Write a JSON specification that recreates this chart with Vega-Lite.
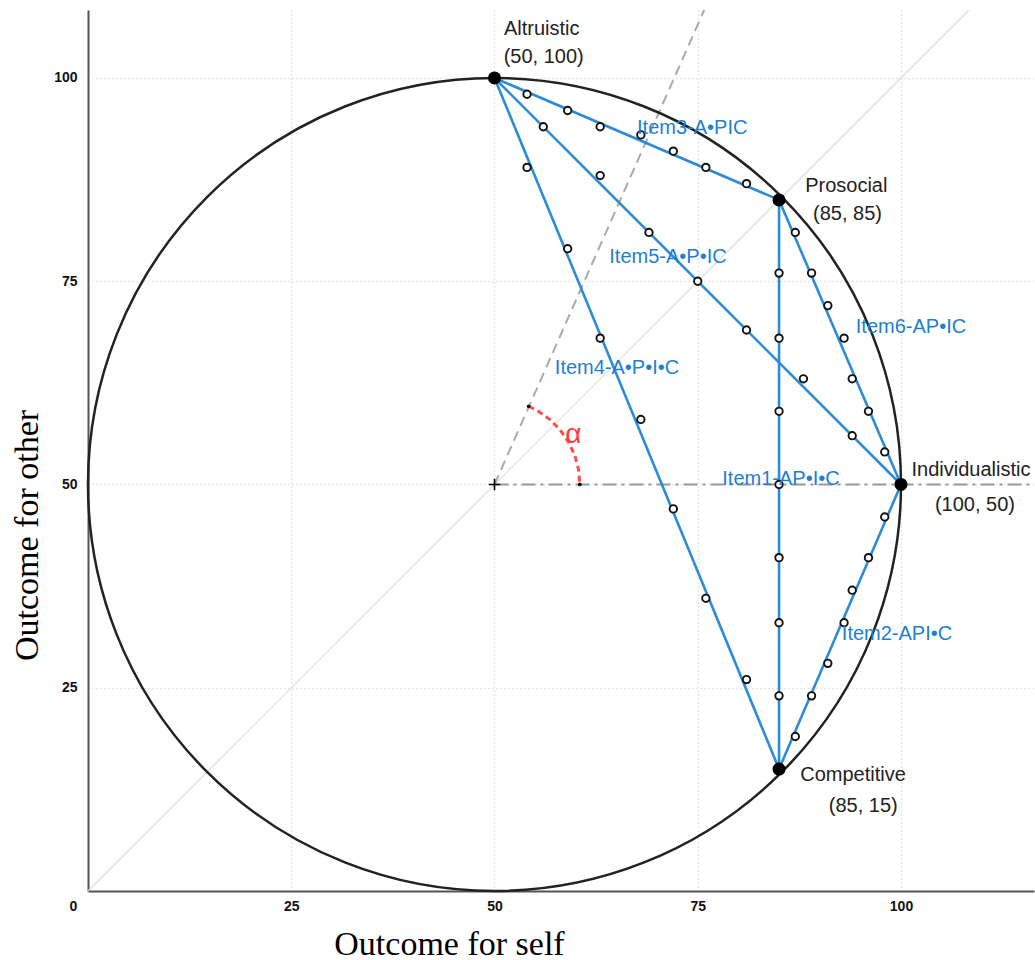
{
  "$schema": "https://vega.github.io/schema/vega-lite/v6.json",
  "width": 946,
  "height": 881,
  "autosize": {"type": "none"},
  "padding": {"left": 88, "top": 10, "right": 1, "bottom": 69},
  "background": "white",
  "config": {"view": {"stroke": null}},
  "encoding": {
    "x": {
      "field": "x", "type": "quantitative",
      "scale": {"domain": [0, 116.36], "nice": false, "zero": false},
      "axis": {
        "values": [0, 25, 50, 75, 100],
        "grid": true, "gridColor": "#cfcfcf", "gridDash": [1, 3], "gridWidth": 1.5,
        "domainColor": "#555555", "domainWidth": 2, "ticks": false,
        "labelFont": "Liberation Sans", "labelFontSize": 14, "labelFontWeight": "bold", "labelColor": "#111111",
        "labelPadding": 8, "labelFlush": false,
        "labelOffset": {"condition": {"test": "datum.value === 0", "value": -15}, "value": 0},
        "title": "Outcome for self", "titleFont": "Liberation Serif", "titleFontSize": 34, "titleFontWeight": "normal",
        "titleColor": "#000000", "titleX": 361, "titleY": 63, "titleBaseline": "alphabetic", "titleAlign": "center"
      }
    },
    "y": {
      "field": "y", "type": "quantitative",
      "scale": {"domain": [0, 108.36], "nice": false, "zero": false},
      "axis": {
        "values": [25, 50, 75, 100],
        "grid": true, "gridColor": "#cfcfcf", "gridDash": [1, 3], "gridWidth": 1.5,
        "domainColor": "#555555", "domainWidth": 2, "ticks": false,
        "labelFont": "Liberation Sans", "labelFontSize": 14, "labelFontWeight": "bold", "labelColor": "#111111",
        "labelPadding": 11, "labelFlush": false,
        "title": "Outcome for other", "titleFont": "Liberation Serif", "titleFontSize": 34, "titleFontWeight": "normal",
        "titleColor": "#000000", "titleX": -51, "titleY": 525, "titleBaseline": "alphabetic", "titleAlign": "center", "titleAngle": -90
      }
    }
  },
  "layer": [
    {
      "data": {"values": [{"x": 0, "y": 0, "x2": 108.36, "y2": 108.36}]},
      "mark": {"type": "rule", "color": "#dddddd", "strokeWidth": 1.2},
      "encoding": {"x2": {"field": "x2"}, "y2": {"field": "y2"}}
    },
    {
      "data": {"values": [{"x": 50, "y": 50, "x2": 75.8, "y2": 108.36}]},
      "mark": {"type": "rule", "color": "#aaaaaa", "strokeWidth": 2, "strokeDash": [10, 6]},
      "encoding": {"x2": {"field": "x2"}, "y2": {"field": "y2"}}
    },
    {
      "data": {"values": [{"x": 50, "y": 50, "x2": 116.36, "y2": 50}]},
      "mark": {"type": "rule", "color": "#999999", "strokeWidth": 1.8, "strokeDash": [14, 5, 3, 5]},
      "encoding": {"x2": {"field": "x2"}, "y2": {"field": "y2"}}
    },
    {
      "data": {"values": [{"x": 50, "y": 50}]},
      "mark": {"type": "point", "shape": "circle", "filled": false, "stroke": "#222222", "strokeWidth": 2.5, "size": 660970, "opacity": 1}
    },
    {
      "data": {"values": [
        {"x": 60.5, "y": 50}, {"x": 60.34, "y": 51.82}, {"x": 59.87, "y": 53.59}, {"x": 59.09, "y": 55.25},
        {"x": 58.04, "y": 56.75}, {"x": 56.75, "y": 58.04}, {"x": 55.25, "y": 59.09}, {"x": 54.2, "y": 59.62}
      ]},
      "mark": {"type": "line", "color": "#ff4d4d", "strokeWidth": 3, "strokeDash": [6, 4]}
    },
    {
      "data": {"values": [
        {"item": "Item1", "x": 85, "y": 85, "x2": 85, "y2": 15},
        {"item": "Item2", "x": 100, "y": 50, "x2": 85, "y2": 15},
        {"item": "Item3", "x": 50, "y": 100, "x2": 85, "y2": 85},
        {"item": "Item4", "x": 50, "y": 100, "x2": 85, "y2": 15},
        {"item": "Item5", "x": 50, "y": 100, "x2": 100, "y2": 50},
        {"item": "Item6", "x": 85, "y": 85, "x2": 100, "y2": 50}
      ]},
      "mark": {"type": "rule", "color": "#2e8bd6", "strokeWidth": 2.6},
      "encoding": {"x2": {"field": "x2"}, "y2": {"field": "y2"}}
    },
    {
      "data": {"values": [
        {"x": 85, "y": 76}, {"x": 85, "y": 68}, {"x": 85, "y": 59}, {"x": 85, "y": 50}, {"x": 85, "y": 41}, {"x": 85, "y": 33}, {"x": 85, "y": 24},
        {"x": 98, "y": 46}, {"x": 96, "y": 41}, {"x": 94, "y": 37}, {"x": 93, "y": 33}, {"x": 91, "y": 28}, {"x": 89, "y": 24}, {"x": 87, "y": 19},
        {"x": 54, "y": 98}, {"x": 59, "y": 96}, {"x": 63, "y": 94}, {"x": 68, "y": 93}, {"x": 72, "y": 91}, {"x": 76, "y": 89}, {"x": 81, "y": 87},
        {"x": 54, "y": 89}, {"x": 59, "y": 79}, {"x": 63, "y": 68}, {"x": 68, "y": 58}, {"x": 72, "y": 47}, {"x": 76, "y": 36}, {"x": 81, "y": 26},
        {"x": 56, "y": 94}, {"x": 63, "y": 88}, {"x": 69, "y": 81}, {"x": 75, "y": 75}, {"x": 81, "y": 69}, {"x": 88, "y": 63}, {"x": 94, "y": 56},
        {"x": 87, "y": 81}, {"x": 89, "y": 76}, {"x": 91, "y": 72}, {"x": 93, "y": 68}, {"x": 94, "y": 63}, {"x": 96, "y": 59}, {"x": 98, "y": 54}
      ]},
      "mark": {"type": "point", "shape": "circle", "filled": true, "fill": "white", "stroke": "#111111", "strokeWidth": 1.9, "size": 55, "opacity": 1}
    },
    {
      "data": {"values": [{"x": 50, "y": 100}, {"x": 85, "y": 85}, {"x": 100, "y": 50}, {"x": 85, "y": 15}]},
      "mark": {"type": "point", "shape": "circle", "filled": true, "color": "#000000", "size": 170, "opacity": 1}
    },
    {
      "data": {"values": [{"x": 54.2, "y": 59.62}, {"x": 60.5, "y": 50}]},
      "mark": {"type": "point", "shape": "circle", "filled": true, "color": "#111111", "size": 14, "opacity": 1}
    },
    {
      "data": {"values": [{"x": 50, "y": 50}]},
      "mark": {"type": "point", "shape": "M -1 0 L 1 0 M 0 -1 L 0 1", "filled": false, "stroke": "#000000", "strokeWidth": 1.6, "size": 130, "opacity": 1}
    },
    {
      "data": {"values": [
        {"x": 55.81, "y": 105.29, "label": "Altruistic"},
        {"x": 56.05, "y": 101.85, "label": "(50, 100)"},
        {"x": 93.27, "y": 85.94, "label": "Prosocial"},
        {"x": 93.42, "y": 82.53, "label": "(85, 85)"},
        {"x": 108.61, "y": 51.08, "label": "Individualistic"},
        {"x": 109.1, "y": 46.78, "label": "(100, 50)"},
        {"x": 94.1, "y": 13.57, "label": "Competitive"},
        {"x": 95.36, "y": 9.68, "label": "(85, 15)"}
      ]},
      "mark": {"type": "text", "font": "Liberation Sans", "fontSize": 20, "color": "#222222", "align": "center", "baseline": "alphabetic"},
      "encoding": {"text": {"field": "label"}}
    },
    {
      "data": {"values": [
        {"x": 74.32, "y": 93.11, "label": "Item3-A•PIC"},
        {"x": 71.34, "y": 77.24, "label": "Item5-A•P•IC"},
        {"x": 101.23, "y": 68.63, "label": "Item6-AP•IC"},
        {"x": 65.07, "y": 63.59, "label": "Item4-A•P•I•C"},
        {"x": 85.24, "y": 49.94, "label": "Item1-AP•I•C"},
        {"x": 99.51, "y": 30.87, "label": "Item2-API•C"}
      ]},
      "mark": {"type": "text", "font": "Liberation Sans", "fontSize": 20, "color": "#1f7fd1", "align": "center", "baseline": "alphabetic"},
      "encoding": {"text": {"field": "label"}}
    },
    {
      "data": {"values": [{"x": 59.69, "y": 55.1, "label": "α"}]},
      "mark": {"type": "text", "font": "Liberation Sans", "fontSize": 28, "color": "#ff3b3b", "align": "center", "baseline": "alphabetic"},
      "encoding": {"text": {"field": "label"}}
    }
  ]
}
